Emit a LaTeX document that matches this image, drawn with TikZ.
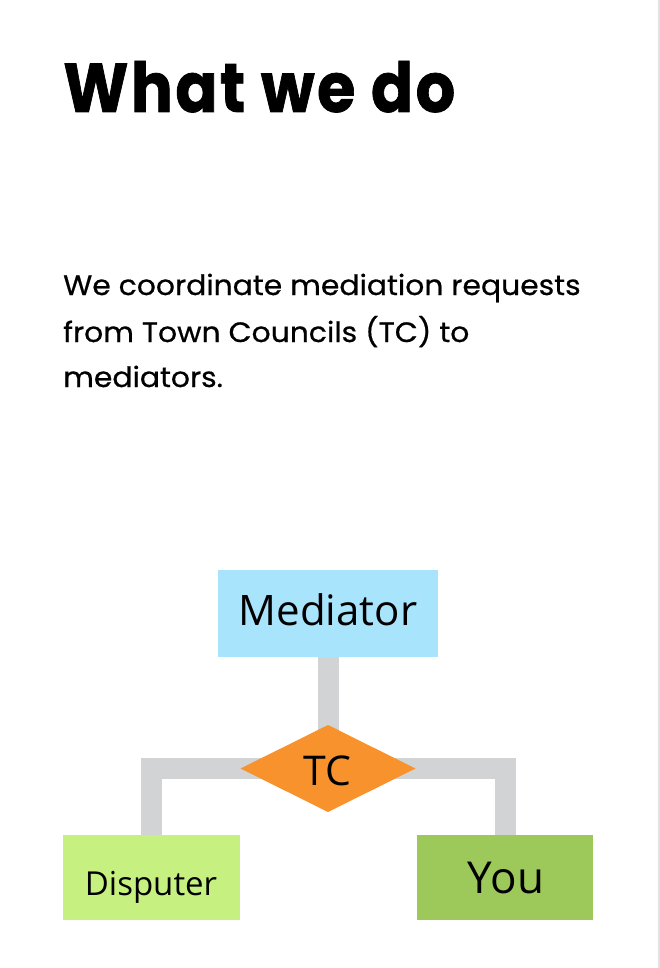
\documentclass[tikz,border=0pt]{standalone}
\usepackage{fontspec}
\usetikzlibrary{shapes.geometric,backgrounds}
\newfontfamily\titlefont{Poppins}[BoldFeatures={FakeBold=1.1,LetterSpace=4}]
\newfontfamily\bodyfont{Poppins}[FakeBold=0.6]
\newfontfamily\diafont{Open Sans}
\definecolor{medblue}{HTML}{A8E4FC}
\definecolor{tcorange}{HTML}{F7922D}
\definecolor{dispgreen}{HTML}{C6F07F}
\definecolor{yougreen}{HTML}{9CC95A}
\definecolor{conngray}{HTML}{D1D3D4}
\definecolor{edgegray}{HTML}{E2E2E2}
\tikzset{
  box/.style={rectangle, inner sep=0pt, outer sep=0pt},
  conn/.style={draw=conngray, line width=21pt},
  lbl/.style={anchor=base, inner sep=0pt, font=\diafont},
  para/.style={anchor=base west, inner sep=0pt, font=\bodyfont\fontsize{28}{34}\selectfont}
}
\begin{document}
\begin{tikzpicture}[x=1pt,y=-1pt]
\useasboundingbox (0,0) rectangle (660,968);
\draw[edgegray, line width=2pt] (658.5,0) -- (658.5,968);

\node[anchor=base west, inner sep=0pt, font=\titlefont\bfseries\fontsize{69}{76}\selectfont] (title) at (63,112) {\scalebox{0.90}[1]{What we do}};

\node[para] (p1) at (63,295) {\scalebox{1.065}[1]{We coordinate mediation requests}};
\node[para] (p2) at (63,342) {\scalebox{1.065}[1]{from Town Councils (TC) to}};
\node[para] (p3) at (63,387) {\scalebox{1.065}[1]{mediators.}};

\node[box, fill=medblue, minimum width=220pt, minimum height=87pt] (med) at (328,613.5) {};
\node[lbl, font=\diafont\fontsize{42}{48}\selectfont] (medt) at (328,625) {Mediator};

\node[diamond, fill=tcorange, inner sep=0pt, outer sep=0pt, minimum width=175pt, minimum height=87pt] (tc) at (328,768.5) {};
\node[lbl, font=\diafont\fontsize{41}{46}\selectfont] (tct) at (327.5,785) {TC};

\node[box, fill=dispgreen, minimum width=177pt, minimum height=85pt] (disp) at (151.5,877.5) {};
\node[lbl, font=\diafont\fontsize{33}{38}\selectfont] (dispt) at (151,895) {Disputer};

\node[box, fill=yougreen, minimum width=176pt, minimum height=85pt] (you) at (505,877.5) {};
\node[lbl, font=\diafont\fontsize{44}{50}\selectfont] (yout) at (506,893) {You};

\begin{pgfonlayer}{background}
\draw[conn] (med.south) -- (tc.center);
\draw[conn] (disp.north) |- (tc.center) -| (you.north);
\end{pgfonlayer}
\end{tikzpicture}
\end{document}
